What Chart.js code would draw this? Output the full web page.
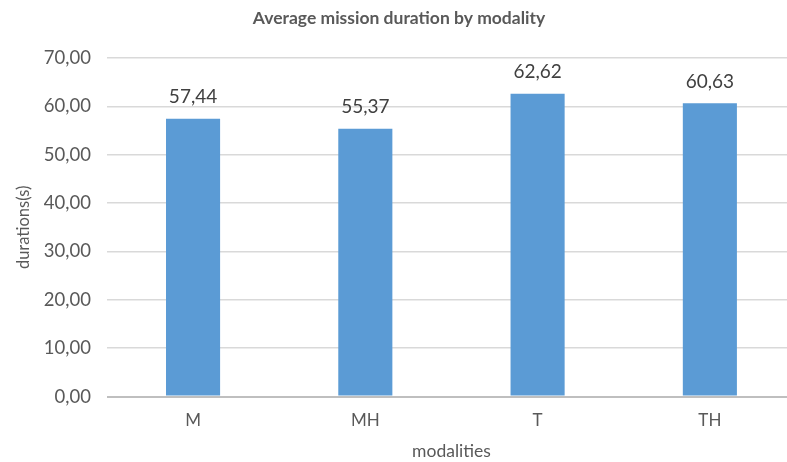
<!DOCTYPE html>
<html>
<head>
<meta charset="utf-8">
<script src="https://cdn.jsdelivr.net/npm/chart.js@4.4.0/dist/chart.umd.min.js"></script>
<style>
  html, body { margin: 0; padding: 0; background: #fff; overflow: hidden; }
  #wrap { width: 800px; height: 462px; }
</style>
</head>
<body>
<div id="wrap"><canvas id="myChart"></canvas></div>
<script>
const modalities = ["M", "MH", "T", "TH"];
const durations = [57.44, 55.37, 62.62, 60.63];
const yTicks = [0, 10, 20, 30, 40, 50, 60, 70];

const fmt = v => v.toFixed(2).replace('.', ',');
const FONT = "Lato, 'Open Sans', sans-serif";

// draws the value above each bar
const valueLabels = {
    id: 'valueLabels',
    afterDatasetsDraw(chart) {
        const c = chart.ctx;
        const meta = chart.getDatasetMeta(0);
        c.save();
        c.font = "19px " + FONT;
        c.fillStyle = "#404040";
        c.textAlign = "center";
        c.textBaseline = "bottom";
        meta.data.forEach((bar, i) => {
            c.fillText(fmt(durations[i]), bar.x, bar.y - 12);
        });
        c.restore();
    }
};

const ctx = document.getElementById('myChart');
new Chart(ctx, {
    type: 'bar',
    data: {
        labels: modalities,
        datasets: [{
            label: 'durations',
            data: durations,
            backgroundColor: '#5b9bd5',
            barPercentage: 0.314,
            categoryPercentage: 1
        }]
    },
    options: {
        responsive: true,
        maintainAspectRatio: false,
        animation: false,
        layout: { padding: { top: 6, right: 4, left: 2, bottom: 0 } },
        plugins: {
            legend: { display: false },
            tooltip: { enabled: false },
            title: {
                display: true,
                text: 'Average mission duration by modality',
                color: '#595959',
                font: { family: FONT, size: 17.5, weight: 'bold' },
                padding: { top: 2, bottom: 29 }
            }
        },
        scales: {
            x: {
                grid: { display: false },
                border: { display: false },
                ticks: { color: '#595959', font: { family: FONT, size: 17 }, padding: 6 },
                title: {
                    display: true,
                    text: 'modalities',
                    color: '#595959',
                    font: { family: FONT, size: 17.5 },
                    padding: { top: 4, bottom: 0 }
                }
            },
            y: {
                min: 0,
                max: 70,
                afterBuildTicks: axis => { axis.ticks = yTicks.map(v => ({ value: v })); },
                grid: {
                    color: ctx => ctx.tick.value === 0 ? '#bfbfbf' : '#d9d9d9',
                    lineWidth: ctx => ctx.tick.value === 0 ? 2 : 1.5,
                    drawTicks: false
                },
                border: { display: false },
                ticks: {
                    color: '#595959',
                    font: { family: FONT, size: 18.5 },
                    padding: 16,
                    callback: v => fmt(v)
                },
                title: {
                    display: true,
                    text: 'durations(s)',
                    color: '#595959',
                    font: { family: FONT, size: 16.5 },
                    padding: { top: 12, bottom: -6 }
                }
            }
        }
    },
    plugins: [valueLabels]
});
</script>
</body>
</html>
